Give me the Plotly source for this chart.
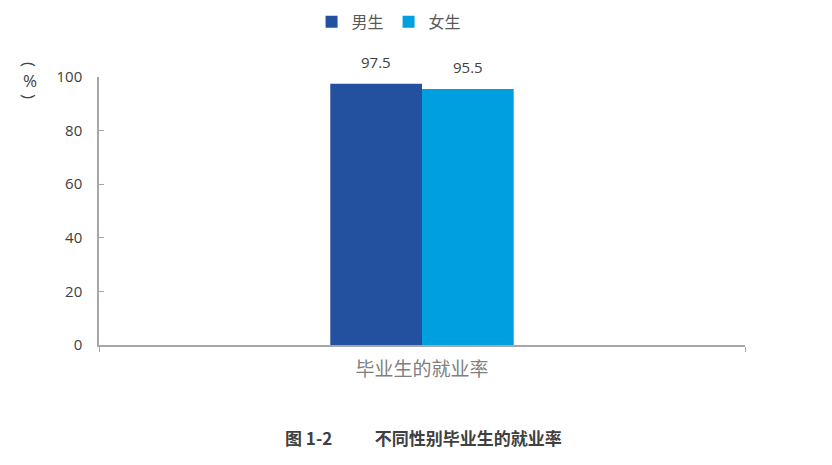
import plotly.graph_objects as go

categories = ['毕业生的就业率']
male_rate = [97.5]
female_rate = [95.5]
y_ticks = [0, 20, 40, 60, 80, 100]

cjk = 'Noto Sans CJK SC'
num_font = 'Open Sans'

fig = go.Figure()

# two bars side by side
fig.add_trace(go.Bar(x=categories, y=male_rate, name='男生',
                     marker=dict(color='#23509F', line=dict(width=0))))
fig.add_trace(go.Bar(x=categories, y=female_rate, name='女生',
                     marker=dict(color='#00A0E0', line=dict(width=0))))

# value labels a bit above each bar
for vals, shift in [(male_rate, -46), (female_rate, 46)]:
    for c, v in zip(categories, vals):
        fig.add_annotation(x=c, y=v, text=f'{v:.1f}', showarrow=False,
                           xshift=shift, yshift=22, yanchor='middle',
                           font=dict(family=num_font, size=15, color='#404040'))

# page body adds an 8px margin, so the margins below are offset for it
fig.update_layout(
    width=832, height=465,
    margin=dict(l=91, r=95, t=69, b=128),
    paper_bgcolor='white', plot_bgcolor='white',
    barmode='group', bargap=0.716, bargroupgap=0,
    showlegend=True,
    legend=dict(orientation='h', x=0.458, xref='container', xanchor='center',
                y=0.970, yref='container', yanchor='middle',
                font=dict(family=cjk, size=16, color='#595959'),
                itemwidth=30, traceorder='normal'),
    xaxis=dict(showline=True, linecolor='#A6A6A6', linewidth=1.5,
               ticks='outside', tickson='boundaries', ticklen=5, tickcolor='#A6A6A6',
               tickfont=dict(family=cjk, size=19, color='#808080'),
               ticklabelstandoff=6,
               showgrid=False, fixedrange=True, automargin=False),
    yaxis=dict(range=[0, 100], tickvals=y_ticks, showline=True, linecolor='#A6A6A6',
               linewidth=1.5, ticks='inside', ticklen=5, tickcolor='#A6A6A6',
               tickfont=dict(family=num_font, size=15, color='#404040'),
               showgrid=False, zeroline=False, ticklabelstandoff=12, automargin=False),
)

# vertical unit label: rotated parentheses with an upright percent sign
for txt, dy, ang in [('(', 12, 90), ('%', -3, 0), (')', -20, 90)]:
    fig.add_annotation(text=txt, xref='paper', yref='paper', x=-0.107, y=1.0,
                       yshift=dy, xanchor='center', yanchor='middle', showarrow=False,
                       textangle=ang, font=dict(family=num_font, size=17, color='#404040'))

# caption under the chart
fig.add_annotation(text='<b>图 1-2           不同性别毕业生的就业率</b>', xref='paper', yref='paper',
                   x=0.503, y=-0.345, xanchor='center', yanchor='middle', showarrow=False,
                   font=dict(family=cjk, size=17, color='#404040'))

fig.write_html('out.html')
